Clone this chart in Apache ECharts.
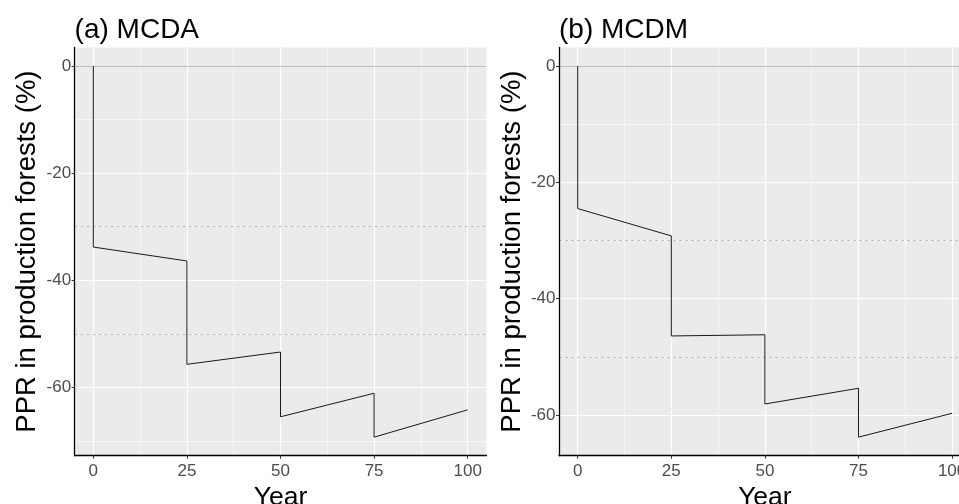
<!DOCTYPE html>
<html>
<head>
<meta charset="utf-8">
<script src="https://cdn.jsdelivr.net/npm/echarts@6/dist/echarts.min.js"></script>
<style>
html,body{margin:0;padding:0;background:#fff;}
#chart{width:959px;height:504px;}
</style>
</head>
<body>
<div id="chart"></div>
<script>
// ---- data ----
const panelTitles = ['(a) MCDA', '(b) MCDM'];
const yTitle = 'PPR in production forests (%)';
const xTitle = 'Year';

// Panel (a) MCDA: [year, PPR %]
const yearsA = [0, 0, 25, 25, 50, 50, 75, 75, 100];
const pprA   = [0, -33.8, -36.4, -55.7, -53.4, -65.5, -61.1, -69.3, -64.2];

// Panel (b) MCDM
const yearsB = [0, 0, 25, 25, 50, 50, 75, 75, 100];
const pprB   = [0, -24.5, -29.2, -46.4, -46.2, -58.1, -55.4, -63.8, -59.7];

// tick labels / grid breaks
const xTicks = [0, 25, 50, 75, 100];
const xMinor = [12.5, 37.5, 62.5, 87.5];
const yTicksA = [0, -20, -40, -60];
const yMinorA = [-10, -30, -50, -70];
const yTicksB = [0, -20, -40, -60];
const yMinorB = [-10, -30, -50];
// reference lines
const solidRef = [0];
const dottedRef = [-30, -50];

// ---- build ----
const FONT = 'Liberation Sans, Arial, sans-serif';
function expand(vals) {
  const mn = Math.min(...vals), mx = Math.max(...vals);
  const d = (mx - mn) * 0.05;
  return [mn - d, mx + d];
}
const xExt = expand(yearsA.concat(yearsB));
const yExtA = expand(pprA);
const yExtB = expand(pprB);

function pairs(xs, ys) { return xs.map((x, i) => [x, ys[i]]); }

function gridMarks(yMajor, yMinor) {
  const d = [];
  xMinor.forEach(v => d.push({xAxis: v, lineStyle: {color: '#fff', width: 0.6, type: 'solid'}}));
  yMinor.forEach(v => d.push({yAxis: v, lineStyle: {color: '#fff', width: 0.6, type: 'solid'}}));
  xTicks.forEach(v => d.push({xAxis: v, lineStyle: {color: '#fff', width: 1.2, type: 'solid'}}));
  yMajor.forEach(v => d.push({yAxis: v, lineStyle: {color: '#fff', width: 1.2, type: 'solid'}}));
  solidRef.forEach(v => d.push({yAxis: v, lineStyle: {color: '#BEBEBE', width: 1, type: 'solid'}}));
  dottedRef.forEach(v => d.push({yAxis: v, lineStyle: {color: '#BEBEBE', width: 1, type: [3, 3]}}));
  return d;
}

const gridLefts = [74.6, 559.0];
const gridW = 411.8, gridTop = 47.5, gridH = 408.2;

function xAxisOpt(i) {
  return {
    type: 'value', gridIndex: i, min: xExt[0], max: xExt[1], z: 3,
    splitLine: {show: false},
    axisLine: {show: true, onZero: false, lineStyle: {color: '#000', width: 1.3}},
    axisTick: {show: true, length: 3, customValues: xTicks, lineStyle: {color: '#333', width: 1}},
    axisLabel: {customValues: xTicks, color: '#4D4D4D', fontSize: 17, fontFamily: FONT, margin: 7,
                showMinLabel: true, showMaxLabel: true},
    name: xTitle, nameLocation: 'middle', nameGap: 23.5,
    nameTextStyle: {color: '#000', fontSize: 26.5, fontFamily: FONT}
  };
}
function yAxisOpt(i, ext, ticks) {
  return {
    type: 'value', gridIndex: i, min: ext[0], max: ext[1], z: 3,
    splitLine: {show: false},
    axisLine: {show: true, onZero: false, lineStyle: {color: '#000', width: 1.3}},
    axisTick: {show: true, length: 3, customValues: ticks, lineStyle: {color: '#333', width: 1}},
    axisLabel: {customValues: ticks, color: '#4D4D4D', fontSize: 17, fontFamily: FONT, margin: 3.5},
    name: yTitle, nameLocation: 'middle', nameGap: 33, nameRotate: 90,
    nameTextStyle: {color: '#000', fontSize: 27.5, fontFamily: FONT}
  };
}
function seriesOpt(i, xs, ys, yMajor, yMinor) {
  return {
    type: 'line', xAxisIndex: i, yAxisIndex: i, z: 2,
    data: pairs(xs, ys), showSymbol: false, symbol: 'none',
    lineStyle: {color: '#1a1a1a', width: 1},
    silent: true,
    markLine: {
      z: 1, silent: true, symbol: ['none', 'none'], label: {show: false},
      emphasis: {disabled: true}, animation: false,
      data: gridMarks(yMajor, yMinor)
    }
  };
}

const chart = echarts.init(document.getElementById('chart'), null, {renderer: 'canvas'});
chart.setOption({
  animation: false,
  backgroundColor: '#fff',
  title: panelTitles.map((t, i) => ({
    text: t, left: gridLefts[i], top: 16, padding: 0,
    textStyle: {color: '#000', fontSize: 28, fontWeight: 'normal', fontFamily: FONT}
  })),
  grid: gridLefts.map(l => ({
    left: l, top: gridTop, width: gridW, height: gridH,
    show: true, backgroundColor: '#EBEBEB', borderWidth: 0,
    containLabel: false, outerBoundsMode: 'none'
  })),
  xAxis: [xAxisOpt(0), xAxisOpt(1)],
  yAxis: [yAxisOpt(0, yExtA, yTicksA), yAxisOpt(1, yExtB, yTicksB)],
  series: [
    seriesOpt(0, yearsA, pprA, yTicksA, yMinorA),
    seriesOpt(1, yearsB, pprB, yTicksB, yMinorB)
  ]
});
</script>
</body>
</html>
